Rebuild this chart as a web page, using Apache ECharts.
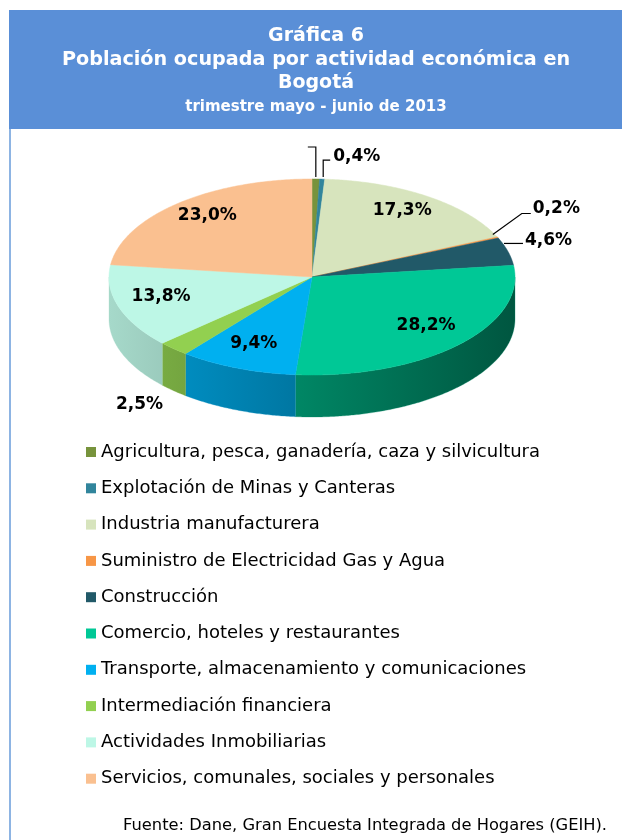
<!DOCTYPE html>
<html>
<head>
<meta charset="utf-8">
<script src="https://cdn.jsdelivr.net/npm/echarts@6.0.0/dist/echarts.min.js"></script>
<style>
  html, body { margin: 0; padding: 0; background: #fff; }
  #main { width: 622px; height: 840px; }
</style>
</head>
<body>
<div id="main"></div>
<script>
  // datos de la gráfica
  var categories = [
    'Agricultura, pesca, ganadería, caza y silvicultura',
    'Explotación de Minas y Canteras',
    'Industria manufacturera',
    'Suministro de Electricidad Gas y Agua',
    'Construcción',
    'Comercio, hoteles y restaurantes',
    'Transporte, almacenamiento y comunicaciones',
    'Intermediación financiera',
    'Actividades Inmobiliarias',
    'Servicios, comunales, sociales y personales'
  ];
  var shares = [0.6, 0.4, 17.3, 0.2, 4.6, 28.2, 9.4, 2.5, 13.8, 23.0];
  var colors = ['#77933c', '#31859c', '#d7e4bd', '#f79646', '#215968',
                '#00c896', '#00b0f0', '#92d050', '#bdf7e6', '#fac090'];

  var FONT = 'DejaVu Sans, sans-serif';

  // geometría del pastel 3D (elipse + grosor)
  var cx = 312, cy = 277, rx = 203, ry = 98, depth = 42;
  var total = shares.reduce(function (a, b) { return a + b; }, 0);
  var starts = [];
  var acc = 0;
  shares.forEach(function (v) { starts.push(acc / total * 360); acc += v; });

  // posición de etiquetas fuera del pastel (desplazamientos desde el borde)
  var outside = {
    0: { path: [[0, -2], [0, -32], [-8, -32]], text: false },
    1: { path: [[1, -2], [1, -19], [8, -19]], tx: 11, ty: -23 },
    3: { path: [[-5, -3], [24, -24], [33, -24]], tx: 35, ty: -29 },
    4: { path: [[-4, -8], [15, -8]], tx: 17, ty: -11 },
    7: { side: true, path: null, tx: -34, ty: 14, align: 'center' }
  };

  function pt(deg, k, dy) {
    var r = deg * Math.PI / 180;
    return [cx + k * rx * Math.sin(r), cy - k * ry * Math.cos(r) + (dy || 0)];
  }
  function shade(hex, f) {
    var n = parseInt(hex.slice(1), 16);
    var r = Math.round(((n >> 16) & 255) * f);
    var g = Math.round(((n >> 8) & 255) * f);
    var b = Math.round((n & 255) * f);
    return 'rgb(' + r + ',' + g + ',' + b + ')';
  }
  function fmt(v) { return v.toFixed(1).replace('.', ',') + '%'; }

  function renderItem(params, api) {
    var i = params.dataIndex;
    var a0 = starts[i];
    var a1 = a0 + api.value(0) / total * 360;
    var children = [];

    // cara superior
    var top = [[cx, cy]];
    var steps = Math.max(2, Math.ceil((a1 - a0) / 0.5));
    for (var s = 0; s <= steps; s++) top.push(pt(a0 + (a1 - a0) * s / steps, 1));
    children.push({
      type: 'polygon', z2: 5,
      shape: { points: top },
      style: { fill: colors[i], stroke: colors[i], lineWidth: 0.5 }
    });

    // pared lateral visible (mitad frontal)
    var s0 = Math.max(a0, 90), s1 = Math.min(a1, 270);
    if (s1 > s0) {
      var up = [], down = [];
      var n = Math.max(2, Math.ceil((s1 - s0) / 0.5));
      for (var k = 0; k <= n; k++) {
        var d = s0 + (s1 - s0) * k / n;
        up.push(pt(d, 1));
        down.unshift(pt(d, 1, depth));
      }
      var xs = up.map(function (p) { return p[0]; });
      var minX = Math.min.apply(null, xs), maxX = Math.max.apply(null, xs);
      var f = function (x) { return 0.88 - 0.45 * (x - (cx - rx)) / (2 * rx); };
      var sideColA = shade(colors[i], f(minX)), sideColB = shade(colors[i], f(maxX));
      children.push({
        type: 'polygon', z2: 1,
        shape: { points: up.concat(down) },
        style: {
          fill: { type: 'linear', x: 0, y: 0, x2: 1, y2: 0,
                  colorStops: [{ offset: 0, color: sideColA }, { offset: 1, color: sideColB }] },
          stroke: sideColA, lineWidth: 0.3
        }
      });
    }

    // etiquetas
    var mid = (a0 + a1) / 2;
    var txtStyle = { fontSize: 17, fontWeight: 'bold', fill: '#000', fontFamily: FONT };
    var o = outside[i];
    if (!o) {
      var p = pt(mid, 0.78, -4);
      children.push({ type: 'text', z2: 10, x: p[0], y: p[1],
        style: Object.assign({ text: fmt(shares[i]), align: 'center', verticalAlign: 'middle' }, txtStyle) });
    } else {
      var base = o.side ? pt(mid, 1, depth) : pt(mid, 1);
      if (o.path) {
        children.push({ type: 'polyline', z2: 10,
          shape: { points: o.path.map(function (q) { return [base[0] + q[0], base[1] + q[1]]; }) },
          style: { stroke: '#000', lineWidth: 1.2, fill: null } });
      }
      if (o.text !== false) {
        children.push({ type: 'text', z2: 10, x: base[0] + o.tx, y: base[1] + o.ty,
          style: Object.assign({ text: fmt(shares[i]), align: o.align || 'left', verticalAlign: 'middle' }, txtStyle) });
      }
    }
    return { type: 'group', children: children };
  }

  var chart = echarts.init(document.getElementById('main'));
  chart.setOption({
    animation: false,
    graphic: [
      { type: 'rect', z: -1, shape: { x: 9, y: 10, width: 613, height: 119 }, style: { fill: '#5a8fd7' } },
      { type: 'rect', z: -1, shape: { x: 9, y: 129, width: 2, height: 711 }, style: { fill: '#8db4e3' } },
      { type: 'text', x: 316, y: 36, style: { text: 'Gráfica 6', align: 'center', verticalAlign: 'middle',
        fill: '#fff', fontSize: 19, fontWeight: 'bold', fontFamily: FONT } },
      { type: 'text', x: 316, y: 60, style: { text: 'Población ocupada por actividad económica en', align: 'center', verticalAlign: 'middle',
        fill: '#fff', fontSize: 19.2, fontWeight: 'bold', fontFamily: FONT } },
      { type: 'text', x: 316, y: 83, style: { text: 'Bogotá', align: 'center', verticalAlign: 'middle',
        fill: '#fff', fontSize: 19, fontWeight: 'bold', fontFamily: FONT } },
      { type: 'text', x: 316, y: 107, style: { text: 'trimestre mayo - junio de 2013', align: 'center', verticalAlign: 'middle',
        fill: '#fff', fontSize: 15, fontWeight: 'bold', fontFamily: FONT } },
      { type: 'text', x: 607, y: 826, style: { text: 'Fuente: Dane, Gran Encuesta Integrada de Hogares (GEIH).', align: 'right', verticalAlign: 'middle',
        fill: '#000', fontSize: 16.3, fontFamily: FONT } }
    ],
    legend: {
      orient: 'vertical',
      left: 86,
      top: 443,
      padding: 0,
      icon: 'rect',
      itemWidth: 10,
      itemHeight: 10,
      itemGap: 18.3,
      selectedMode: false,
      textStyle: { fontSize: 18, color: '#000', fontFamily: FONT },
      data: categories
    },
    series: [
      {
        // sólo para la leyenda
        type: 'pie',
        radius: [0, 0],
        center: [-100, -100],
        silent: true,
        label: { show: false },
        labelLine: { show: false },
        data: categories.map(function (c, i) {
          return { name: c, value: shares[i], itemStyle: { color: colors[i] } };
        })
      },
      {
        type: 'custom',
        coordinateSystem: 'none',
        renderItem: renderItem,
        data: shares.map(function (v) { return [v]; })
      }
    ]
  });
</script>
</body>
</html>
